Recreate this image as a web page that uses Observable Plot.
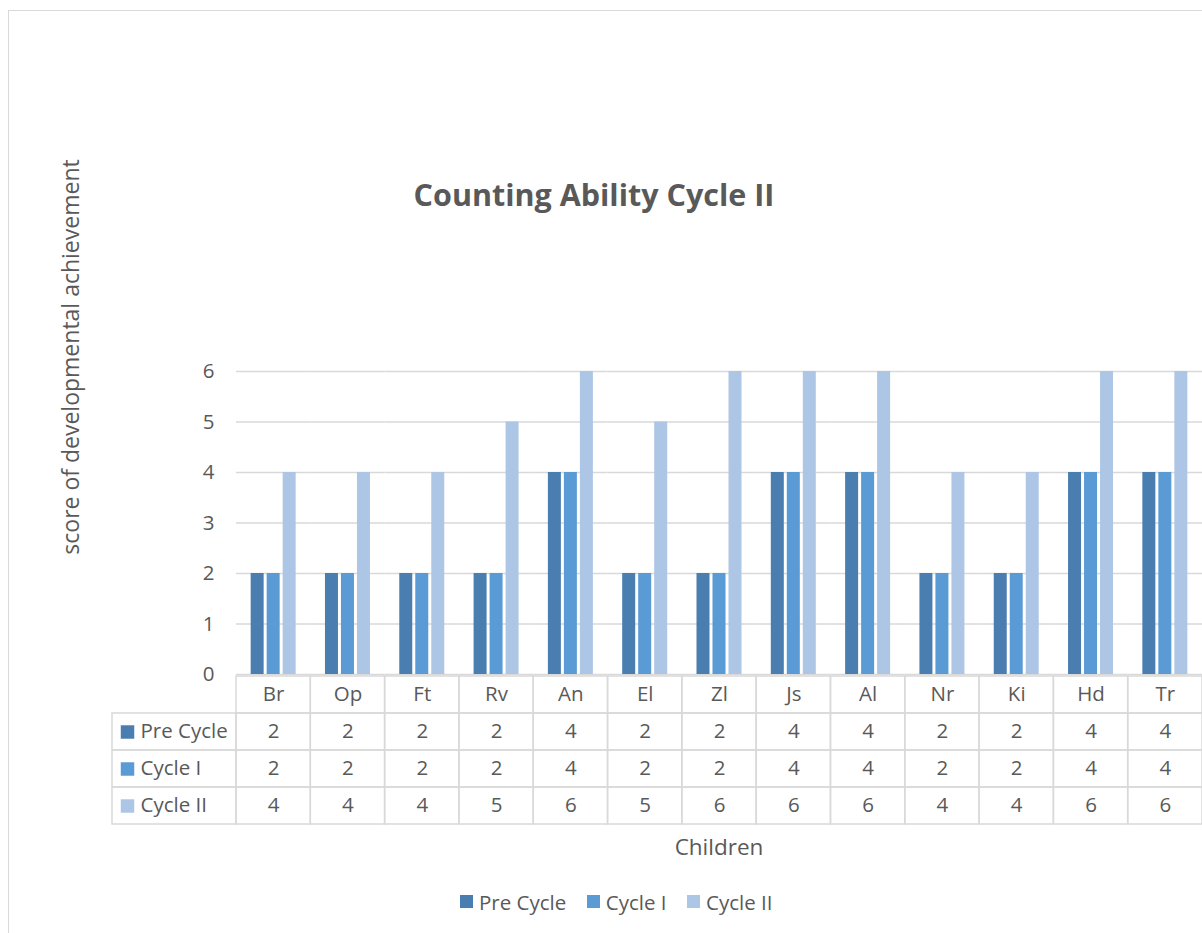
<!DOCTYPE html>
<html>
<head>
<meta charset="utf-8">
<script src="https://cdn.jsdelivr.net/npm/d3@7"></script>
<script src="https://cdn.jsdelivr.net/npm/@observablehq/plot@0.6"></script>
<style>
  html, body { margin: 0; padding: 0; background: #fff; }
  #wrap { position: relative; width: 1202px; height: 933px; overflow: hidden; font-family: "Open Sans", sans-serif; color: #595959; }
  #border { position: absolute; left: 8px; top: 10px; width: 1300px; height: 1000px; border: 1px solid #d9d9d9; box-sizing: border-box; }
  .abs { position: absolute; }
  #title { left: 194px; width: 800px; top: 173px; text-align: center; font-weight: bold; font-size: 30.5px; color: #595959; }
  #ylabel { left: 70px; top: 357px; transform: translate(-50%, -50%) rotate(-90deg); white-space: nowrap; font-size: 23px; }
  #xlabel { left: 619px; width: 200px; top: 831px; text-align: center; font-size: 22.5px; }
  #legend { left: 0; width: 1253px; top: 885px; display: flex; justify-content: center; }
  #legend svg { margin-right: 6px !important; }
</style>
</head>
<body>
<div id="wrap">
  <div id="border"></div>
  <div id="title" class="abs">Counting Ability Cycle II</div>
  <div id="ylabel" class="abs">score of developmental achievement</div>
  <div id="xlabel" class="abs">Children</div>
  <div id="chart" class="abs" style="left:0;top:0;"></div>
  <div id="table" class="abs" style="left:0;top:674px;"></div>
  <div id="legend" class="abs"></div>
</div>
<script>
const children = ["Br","Op","Ft","Rv","An","El","Zl","Js","Al","Nr","Ki","Hd","Tr"];
const series = ["Pre Cycle","Cycle I","Cycle II"];
const preCycle = [2,2,2,2,4,2,2,4,4,2,2,4,4];
const cycleI   = [2,2,2,2,4,2,2,4,4,2,2,4,4];
const cycleII  = [4,4,4,5,6,5,6,6,6,4,4,6,6];
const yTicks = [0,1,2,3,4,5,6];
const colors = ["#4a7eb0","#5b9bd5","#adc6e6"];

const valuesBySeries = [preCycle, cycleI, cycleII];
const data = [];
children.forEach((c, i) => series.forEach((s, j) => data.push({child: c, series: s, value: valuesBySeries[j][i]})));

const W = 1202, left = 236, gridColor = "#d9d9d9";
const fs = 20.5;
const font = {fontFamily: "Open Sans, sans-serif", fontSize: fs + "px", color: "#595959", background: "transparent"};

const chart = Plot.plot({
  width: W, height: 700,
  marginLeft: left, marginRight: 0, marginTop: 371, marginBottom: 26,
  style: font,
  fx: {domain: children, padding: 0, axis: null, round: false},
  x: {domain: series, paddingInner: 0.1875, paddingOuter: 0.916, axis: null, round: false},
  y: {domain: [0, 6], ticks: yTicks, tickFormat: "d", tickSize: 0, tickPadding: 22, label: null},
  color: {domain: series, range: colors},
  marks: [
    Plot.ruleY(yTicks, {stroke: gridColor, strokeWidth: 1.5}),
    Plot.barY(data, {fx: "child", x: "series", y: "value", fill: "series"})
  ]
});
document.getElementById("chart").appendChild(chart);

// data table under the chart
const rows = ["header", ...series];
const cells = [];
children.forEach((c, i) => {
  cells.push({child: c, row: "header", text: c});
  series.forEach((s, j) => cells.push({child: c, row: s, text: String(valuesBySeries[j][i])}));
});
const band = (W - left) / children.length;
const labelCol = 124;

const table = Plot.plot({
  width: W, height: 152,
  marginLeft: left, marginRight: 0, marginTop: 0, marginBottom: 1,
  style: font,
  x: {domain: children, padding: 0, axis: null, round: false},
  y: {domain: rows, padding: 0, axis: null},
  color: {domain: series, range: colors},
  marks: [
    Plot.cell(cells, {x: "child", y: "row", fill: "none", stroke: gridColor, strokeWidth: 1.5}),
    Plot.cell(series, {x: () => children[0], y: d => d, fill: "none", stroke: gridColor, strokeWidth: 1.5, insetLeft: -labelCol, insetRight: band}),
    Plot.text(cells, {x: "child", y: "row", text: "text", fill: "#595959", fontSize: fs, dy: -1}),
    Plot.dot(series, {y: d => d, frameAnchor: "left", dx: -109, symbol: "square", fill: d => d, r: 7.6}),
    Plot.text(series, {y: d => d, text: d => d, frameAnchor: "left", dx: -96, textAnchor: "start", fill: "#595959", fontSize: fs, dy: -1})
  ]
});
document.getElementById("table").appendChild(table);

const legend = Plot.legend({
  color: {domain: series, range: colors},
  legend: "swatches",
  swatchSize: 13,
  className: "lg",
  style: {fontFamily: "Open Sans, sans-serif", fontSize: fs + "px", color: "#595959", marginLeft: 0}
});
document.getElementById("legend").appendChild(legend);
</script>
</body>
</html>
